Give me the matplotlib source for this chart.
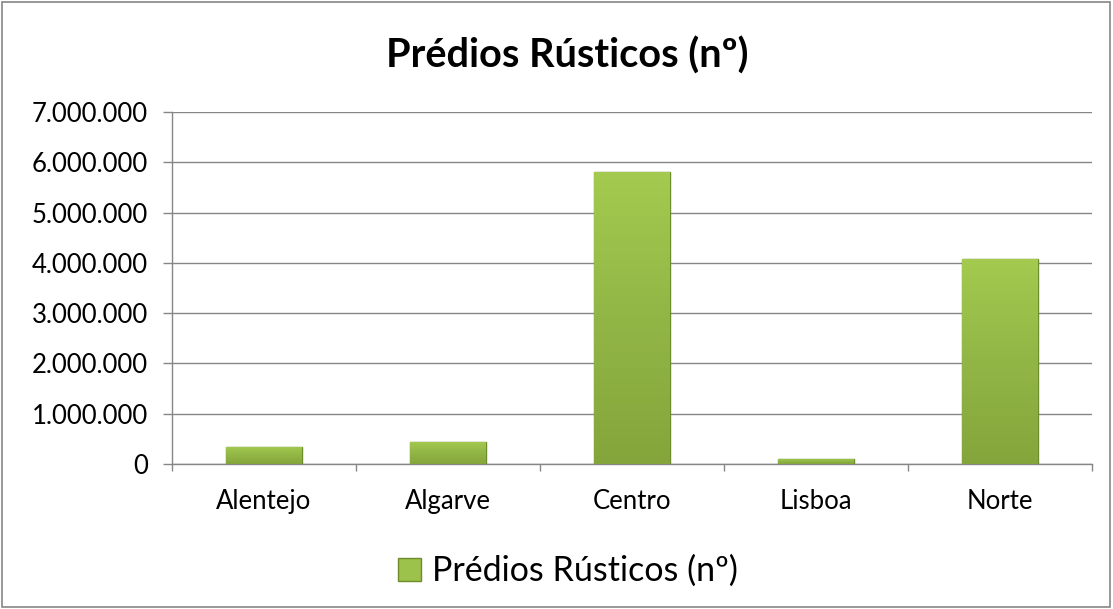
import numpy as np
import matplotlib
matplotlib.use("Agg")
import matplotlib.pyplot as plt
from matplotlib.patches import Rectangle
from matplotlib.ticker import FuncFormatter, FixedLocator

regions = ["Alentejo", "Algarve", "Centro", "Lisboa", "Norte"]
predios = [340000, 440000, 5800000, 100000, 4080000]
series_name = "Prédios Rústicos (nº)"
y_ticks = [0, 1000000, 2000000, 3000000, 4000000, 5000000, 6000000, 7000000]

plt.rcParams["font.family"] = ["Lato", "DejaVu Sans"]

fig = plt.figure(figsize=(11.13, 6.09), dpi=100)
fig.patches.append(Rectangle((0.002, 0.003), 0.995, 0.993, transform=fig.transFigure,
                             fill=False, edgecolor="#868686", linewidth=1.2))

ax = fig.add_axes([0.1545, 0.238, 0.8265, 0.578])
x = np.arange(len(regions))
bars = ax.bar(x, predios, width=0.41, color="#92b846", edgecolor="#6f8c2c",
              linewidth=1.0, zorder=3)

# vertical gradient inside each bar
grad = np.linspace(0, 1, 256).reshape(-1, 1)
cmap = matplotlib.colors.LinearSegmentedColormap.from_list("g", ["#84a53b", "#92b646", "#a4ca4f"])
for b in bars:
    bx, by, bw, bh = b.get_x(), b.get_y(), b.get_width(), b.get_height()
    im = ax.imshow(grad, extent=(bx, bx + bw, by, by + bh), origin="lower",
                   cmap=cmap, aspect="auto", zorder=3.5)
    im.set_clip_path(b)

ax.set_xlim(-0.5, len(regions) - 0.5)
ax.set_ylim(0, 7000000)
ax.set_yticks(y_ticks)
ax.yaxis.set_major_formatter(FuncFormatter(lambda v, p: f"{int(v):,}".replace(",", ".")))
ax.set_xticks(x)
ax.set_xticklabels(regions)
ax.xaxis.set_minor_locator(FixedLocator(np.arange(-0.5, len(regions), 1.0)))
ax.tick_params(axis="x", which="major", length=0, pad=18, labelsize=18.5)
ax.tick_params(axis="x", which="minor", length=5, color="#868686", width=1)
ax.tick_params(axis="y", length=6.5, color="#868686", width=1, pad=11, labelsize=18.5)

ax.grid(axis="y", color="#868686", linewidth=1, zorder=0)
ax.set_axisbelow(True)
for s in ["top", "right"]:
    ax.spines[s].set_visible(False)
for s in ["left", "bottom"]:
    ax.spines[s].set_color("#868686")
    ax.spines[s].set_linewidth(1)

fig.text(0.51, 0.908, series_name, ha="center", va="center", fontsize=28.5, fontweight="bold")

handle = Rectangle((0, 0), 1, 1, facecolor="#9cc24c", edgecolor="#6f8c2c")
fig.legend([handle], [series_name], loc="center", bbox_to_anchor=(0.51, 0.062),
           frameon=False, fontsize=24.5, handlelength=0.7, handleheight=0.7,
           handletextpad=0.3)

fig.savefig("out.png", dpi=100)
